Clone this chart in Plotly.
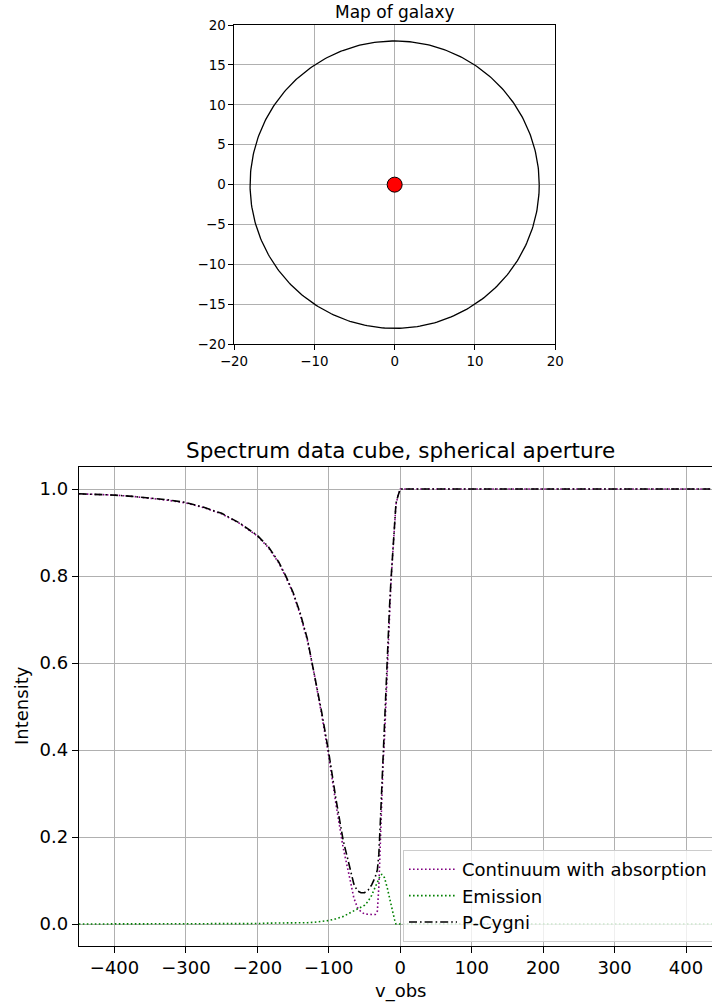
import numpy as np
import plotly.graph_objects as go

# ---- galaxy map ----
galaxy_x = [0.0]
galaxy_y = [0.0]
aperture_radius = 18.0

# ---- spectrum (velocity grid and intensities) ----
v_obs = [-450, -425, -400, -375, -350, -325, -300, -275, -250, -225, -200, -185, -170, -160,
         -150, -140, -130, -120, -110, -100, -90, -80, -70, -65, -60, -55, -50, -45, -40,
         -35, -32, -30, -28, -26, -24, -22, -20, -18, -15, -13, -10, -8, -6, -3, 0,
         50, 100, 150, 200, 250, 300, 350, 400, 450]

continuum_absorption = [0.989, 0.988, 0.986, 0.983, 0.979, 0.974, 0.968, 0.957, 0.943, 0.921, 0.892, 0.866, 0.830, 0.797,
                        0.760, 0.711, 0.652, 0.571, 0.481, 0.385, 0.275, 0.176, 0.100, 0.060, 0.038, 0.028, 0.023, 0.022, 0.022,
                        0.022, 0.030, 0.085, 0.200, 0.300, 0.370, 0.430, 0.505, 0.600, 0.720, 0.785, 0.865, 0.928, 0.965, 0.985, 1.000,
                        1.0, 1.0, 1.0, 1.0, 1.0, 1.0, 1.0, 1.0, 1.0]

emission = [0.000, 0.000, 0.000, 0.000, 0.000, 0.001, 0.001, 0.001, 0.001, 0.001, 0.001, 0.002, 0.002, 0.002,
            0.002, 0.003, 0.003, 0.004, 0.006, 0.008, 0.012, 0.017, 0.026, 0.030, 0.034, 0.038, 0.043, 0.052, 0.066,
            0.085, 0.098, 0.106, 0.111, 0.114, 0.112, 0.106, 0.095, 0.082, 0.060, 0.045, 0.020, 0.010, 0.000, 0.000, 0.000,
            0.0, 0.0, 0.0, 0.0, 0.0, 0.0, 0.0, 0.0, 0.0]

p_cygni = [0.989, 0.988, 0.986, 0.983, 0.979, 0.975, 0.969, 0.958, 0.944, 0.922, 0.893, 0.868, 0.832, 0.799,
           0.762, 0.714, 0.655, 0.575, 0.487, 0.393, 0.287, 0.193, 0.122, 0.092, 0.076, 0.072, 0.072, 0.078, 0.090,
           0.108, 0.125, 0.160, 0.230, 0.310, 0.380, 0.440, 0.515, 0.610, 0.730, 0.790, 0.870, 0.930, 0.967, 0.985, 1.000,
           1.0, 1.0, 1.0, 1.0, 1.0, 1.0, 1.0, 1.0, 1.0]

map_ticks_x = [-20, -10, 0, 10, 20]
map_ticks_y = [-20, -15, -10, -5, 0, 5, 10, 15, 20]
spec_ticks_x = [-400, -300, -200, -100, 0, 100, 200, 300, 400]
spec_ticks_y = [0.0, 0.2, 0.4, 0.6, 0.8, 1.0]

W, H = 712, 1004


def fx(px):
    return px / W


def fy(py):
    return 1 - py / H


theta = np.linspace(0, 2 * np.pi, 361)
circle_x = galaxy_x[0] + aperture_radius * np.cos(theta)
circle_y = galaxy_y[0] + aperture_radius * np.sin(theta)

fig = go.Figure()

# aperture outline and galaxy centre
fig.add_trace(go.Scatter(x=circle_x, y=circle_y, mode="lines",
                         line=dict(color="black", width=1.3),
                         xaxis="x", yaxis="y", showlegend=False, hoverinfo="skip"))
fig.add_trace(go.Scatter(x=galaxy_x, y=galaxy_y, mode="markers",
                         marker=dict(size=15, color="red", line=dict(color="black", width=1)),
                         xaxis="x", yaxis="y", showlegend=False))

# spectra
fig.add_trace(go.Scatter(x=v_obs, y=continuum_absorption, mode="lines",
                         name="Continuum with absorption", legendgroup="a",
                         line=dict(color="purple", width=1.6, dash="1.6px,2.4px"),
                         xaxis="x2", yaxis="y2"))
fig.add_trace(go.Scatter(x=v_obs, y=emission, mode="lines",
                         name="Emission", legendgroup="b",
                         line=dict(color="green", width=1.6, dash="1.6px,2.4px"),
                         xaxis="x2", yaxis="y2"))
fig.add_trace(go.Scatter(x=v_obs, y=p_cygni, mode="lines",
                         name="P-Cygni", legendgroup="c",
                         line=dict(color="black", width=1.6, dash="8px,3px,1.6px,3px"),
                         xaxis="x2", yaxis="y2"))

grid = "#b0b0b0"
axis_common = dict(showgrid=True, gridcolor=grid, gridwidth=1, zeroline=False,
                   showline=True, linecolor="black", linewidth=1.2,
                   ticks="outside", tickcolor="black", tickwidth=1.2, automargin=False)

fig.update_layout(
    width=W, height=H,
    margin=dict(l=0, r=0, t=0, b=0, autoexpand=False),
    paper_bgcolor="white", plot_bgcolor="white",
    font=dict(family="DejaVu Sans", color="black"),
    xaxis=dict(domain=[fx(234), fx(555.3)], range=[-20, 20], tickvals=map_ticks_x,
               anchor="y", mirror=True, ticklen=4.5, layer="above traces",
               tickfont=dict(size=13.4), **axis_common),
    yaxis=dict(domain=[fy(344.3), fy(25)], range=[-20, 20], tickvals=map_ticks_y,
               anchor="x", mirror=True, ticklen=4.5, layer="above traces",
               tickfont=dict(size=13.4), **axis_common),
    xaxis2=dict(domain=[fx(78.8), 1.0], range=[-450, 436.4], tickvals=spec_ticks_x,
                anchor="y2", mirror=True, ticklen=6, tickfont=dict(size=18), **axis_common),
    yaxis2=dict(domain=[fy(945.75), fy(467.25)], range=[-0.05, 1.05], tickvals=spec_ticks_y,
                tickformat=".1f", anchor="x2", mirror=False, ticklen=6,
                tickfont=dict(size=18), **axis_common),
    legend=dict(x=fx(403), y=fy(850), xanchor="left", yanchor="top",
                xref="container", yref="container",
                bgcolor="rgba(255,255,255,0.8)", bordercolor="#cccccc", borderwidth=1,
                font=dict(size=18), itemwidth=48, tracegroupgap=0),
    annotations=[
        dict(text="Map of galaxy", x=fx(394.6), y=fy(12), xref="paper", yref="paper",
             xanchor="center", yanchor="middle", showarrow=False, font=dict(size=17)),
        dict(text="Spectrum data cube, spherical aperture", x=fx(400.3), y=fy(450),
             xref="paper", yref="paper", xanchor="center", yanchor="middle",
             showarrow=False, font=dict(size=21.5)),
        dict(text="v_obs", x=fx(400.3), y=fy(991), xref="paper", yref="paper",
             xanchor="center", yanchor="middle", showarrow=False, font=dict(size=18)),
        dict(text="Intensity", x=fx(21), y=fy(706), xref="paper", yref="paper",
             xanchor="center", yanchor="middle", showarrow=False, textangle=-90,
             font=dict(size=18)),
    ],
)

fig.write_html("out.html")
